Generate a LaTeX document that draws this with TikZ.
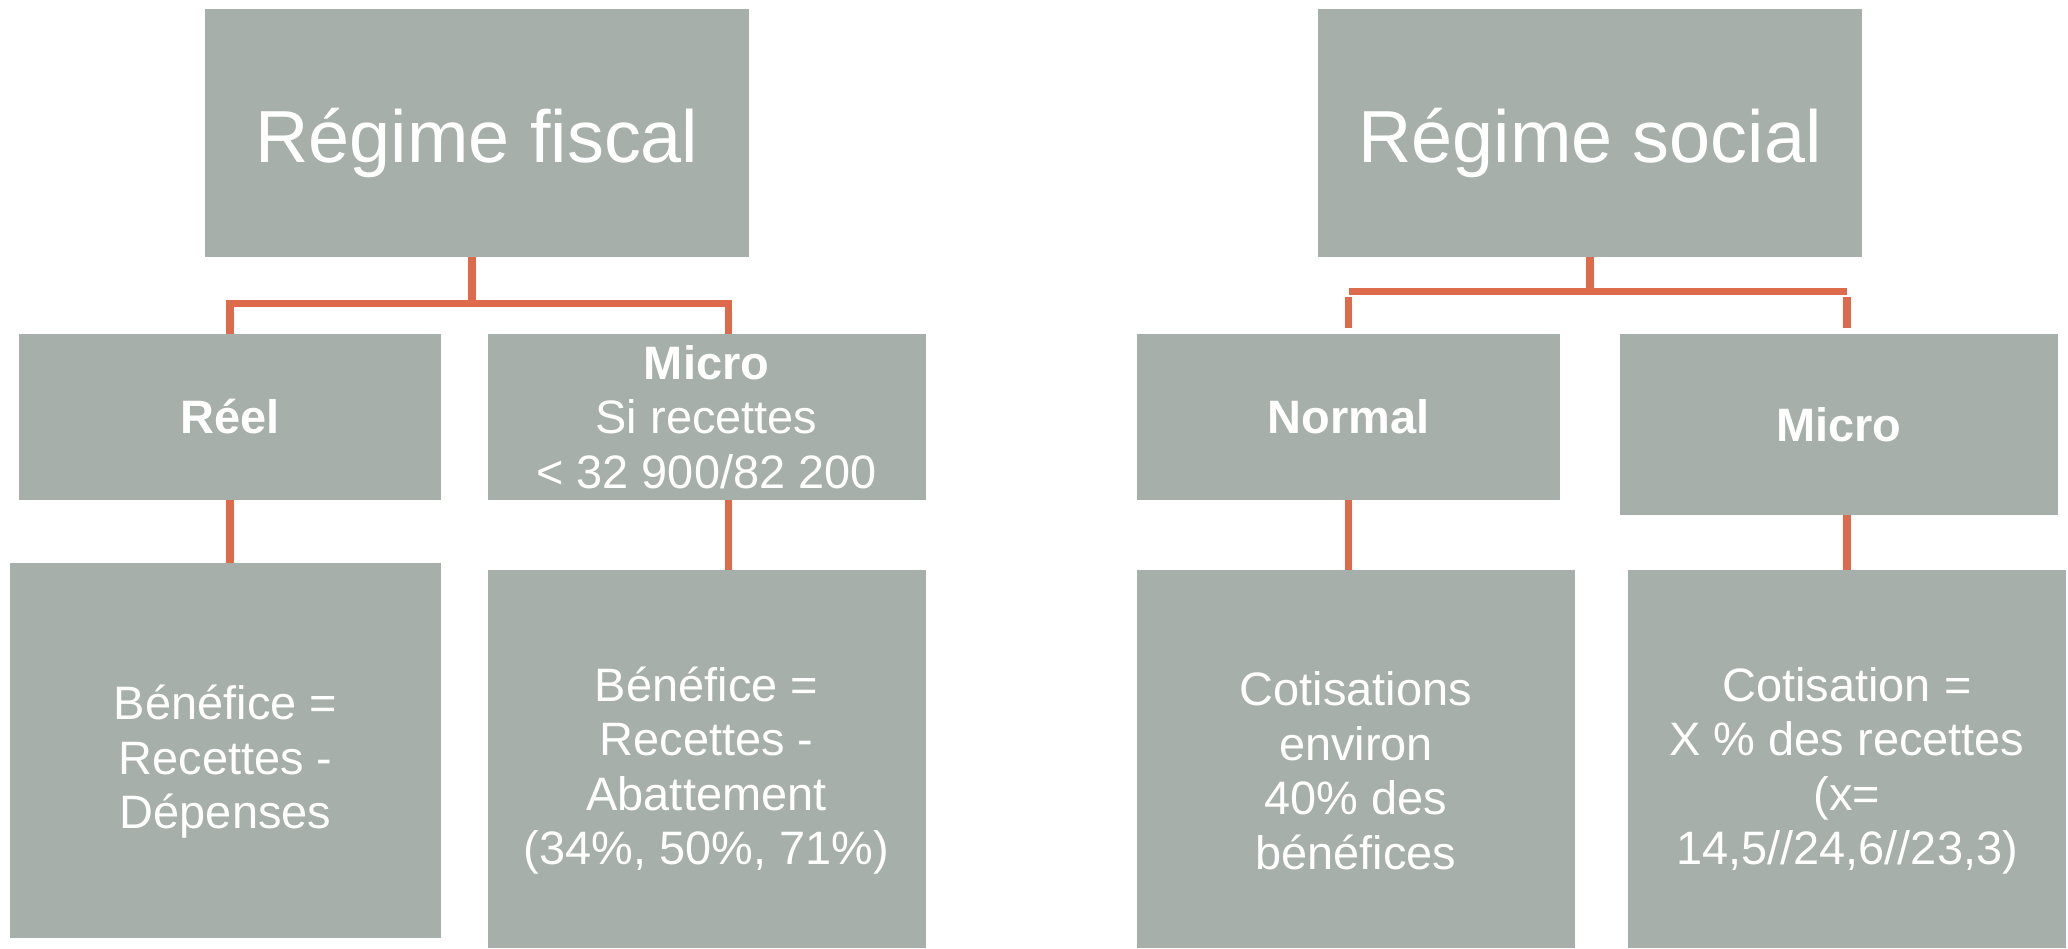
\documentclass[tikz,border=0pt]{standalone}
\usepackage{fontspec}
\setmainfont{Liberation Sans}
\usepackage{tikz}
\definecolor{boxgray}{RGB}{166, 175, 169}
\definecolor{linkorange}{RGB}{222, 106, 76}
\usetikzlibrary{positioning, calc}
\newcommand{\hautligne}{\rule{0pt}{1.15cm}}

\begin{document}
\begin{tikzpicture}[
    regime/.style={rectangle, fill=boxgray, minimum width=10.88cm, minimum height=4.96cm, align=center, text=white, font=\fontsize{42}{48}\selectfont, execute at begin node={\rule{0pt}{1.5cm}}},
    choix/.style={rectangle, fill=boxgray, minimum width=8.45cm, minimum height=3.32cm, align=center, text=white, font=\fontsize{26.7}{31}\selectfont},
    detail/.style={rectangle, fill=boxgray, minimum width=8.76cm, minimum height=7.56cm, align=center, text=white, font=\fontsize{26.7}{31}\selectfont},
    lien/.style={draw=linkorange, line width=0.15cm}
]
    \useasboundingbox (0, 0) rectangle (41.36, -18.96);

    % Regime fiscal
    \node[regime] (fisc) at (9.54, -2.66) {R\'egime fiscal};
    \node[choix] (reel) at (4.60, -8.34) {\bfseries R\'eel};
    \node[choix, minimum width=8.76cm] (microf) at (14.13, -8.34) {\textbf{Micro}\\Si recettes\\< 32 900/82 200};
    \node[detail, minimum width=8.63cm, minimum height=7.5cm] (benefr) at (4.51, -15.01) {\hautligne B\'en\'efice =\\Recettes -\\D\'epenses};
    \node[detail] (benefm) at (14.13, -15.18) {\hautligne B\'en\'efice =\\Recettes -\\Abattement\\(34\%, 50\%, 71\%)};

    % Regime social
    \node[regime] (social) at (31.80, -2.66) {R\'egime social};
    \node[choix] (normal) at (26.97, -8.34) {\bfseries Normal};
    \node[choix, minimum width=8.76cm, minimum height=3.62cm] (micros) at (36.78, -8.49) {\bfseries Micro};
    \node[detail] (cotisn) at (27.12, -15.18) {\hautligne Cotisations\\environ\\40\% des\\b\'en\'efices};
    \node[detail] (cotism) at (36.94, -15.18) {\hautligne Cotisation =\\X \% des recettes\\(x=\\14,5//24,6//23,3)};

    % Liens fiscal
    \draw[lien] ([xshift=-0.1cm]fisc.south) -- ++(0, -0.92) coordinate (fj);
    \draw[lien] (fj) -| (reel.north);
    \draw[lien] (fj) -| ([xshift=0.44cm]microf.north);
    \draw[lien] (reel.south) -- (reel.south |- benefr.north);
    \draw[lien] ([xshift=0.44cm]microf.south) -- ([xshift=0.44cm]microf.south |- benefm.north);

    % Liens social
    \draw[lien] (social.south) -- ++(0, -0.68) coordinate (sj);
    \draw[lien] (normal.north |- sj) -- ([xshift=0.16cm]micros.north |- sj);
    \draw[lien] ([yshift=0.12cm]normal.north) -- ++(0, 0.62);
    \draw[lien] ([xshift=0.16cm, yshift=0.12cm]micros.north) -- ++(0, 0.62);
    \draw[lien] (normal.south) -- (normal.south |- cotisn.north);
    \draw[lien] ([xshift=0.16cm]micros.south) -- ([xshift=0.16cm]micros.south |- cotism.north);

\end{tikzpicture}
\end{document}
